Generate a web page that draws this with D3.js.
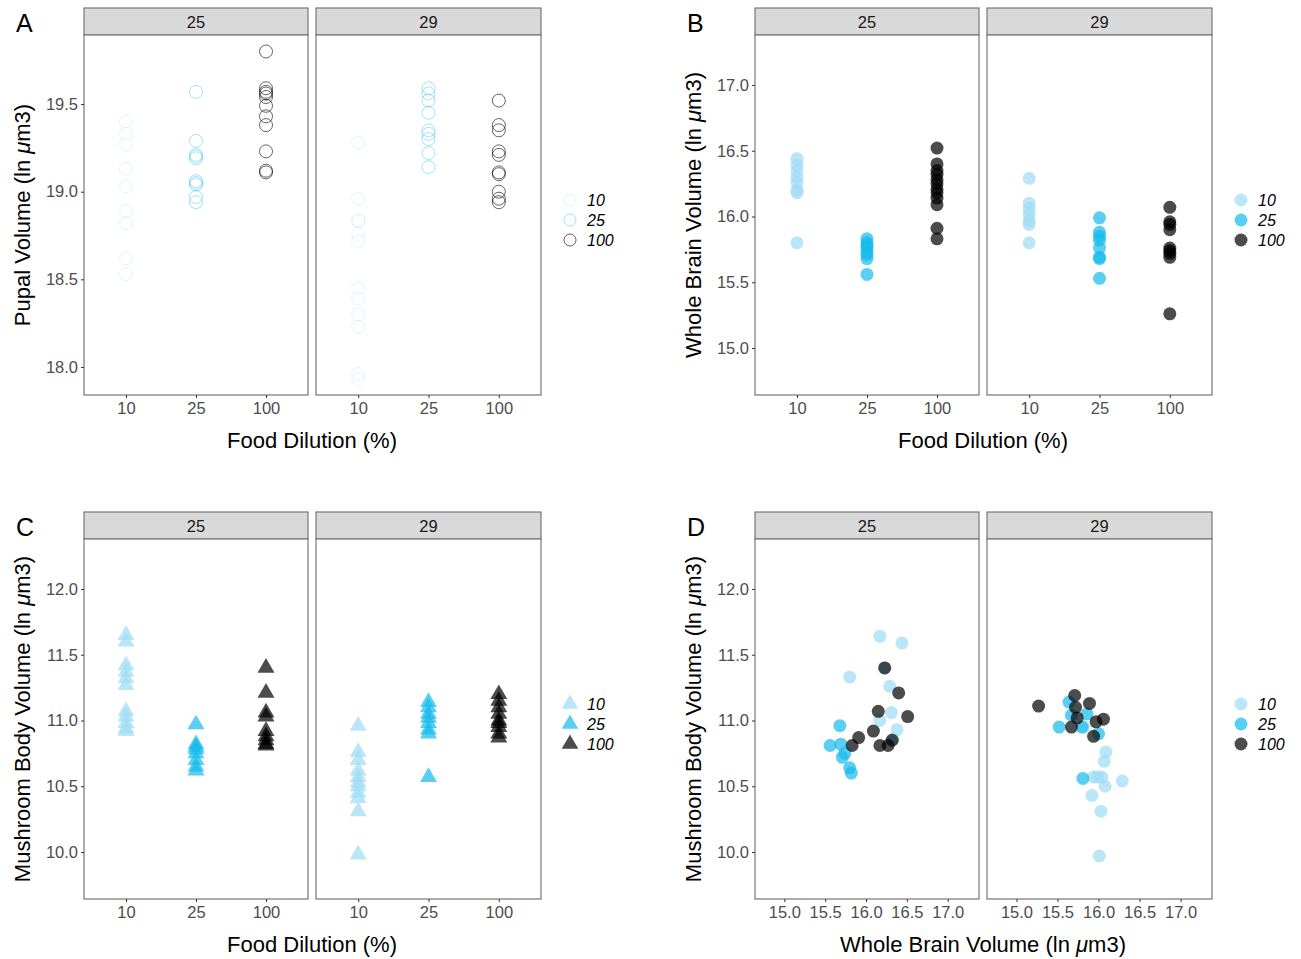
<!DOCTYPE html>
<html>
<head>
<meta charset="utf-8">
<script src="https://d3js.org/d3.v7.min.js"></script>
<style>
  body { margin: 0; background: #fff; }
  svg text { font-family: "Liberation Sans", Arial, sans-serif; }
</style>
</head>
<body>
<div id="container"></div>
<script>
// ---- data ----
var dilutions = ["10", "25", "100"];
var temps = ["25", "29"];

// A: pupal volume, open circles
var pupal_25_10  = [19.40, 19.33, 19.27, 19.13, 19.03, 18.89, 18.82, 18.62, 18.53];
var pupal_25_25  = [19.57, 19.29, 19.21, 19.20, 19.19, 19.06, 19.05, 19.04, 18.97, 18.94];
var pupal_25_100 = [19.80, 19.59, 19.57, 19.56, 19.54, 19.49, 19.43, 19.38, 19.23, 19.12, 19.11];
var pupal_29_10  = [19.28, 18.96, 18.84, 18.83, 18.76, 18.72, 18.45, 18.39, 18.30, 18.23, 17.96, 17.93];
var pupal_29_25  = [19.59, 19.56, 19.52, 19.45, 19.35, 19.33, 19.30, 19.22, 19.14];
var pupal_29_100 = [19.52, 19.38, 19.35, 19.23, 19.21, 19.11, 19.10, 19.00, 18.96, 18.94];

// B: whole brain volume
var brain_25_10  = [16.44, 16.39, 16.35, 16.30, 16.26, 16.20, 16.18, 15.80];
var brain_25_25  = [15.83, 15.80, 15.78, 15.76, 15.73, 15.71, 15.68, 15.56];
var brain_25_100 = [16.52, 16.40, 16.35, 16.32, 16.28, 16.25, 16.21, 16.18, 16.14, 16.09, 15.91, 15.83];
var brain_29_10  = [16.29, 16.10, 16.06, 16.02, 15.97, 15.94, 15.80];
var brain_29_25  = [15.99, 15.88, 15.85, 15.82, 15.76, 15.69, 15.68, 15.53];
var brain_29_100 = [16.07, 15.96, 15.94, 15.90, 15.76, 15.74, 15.72, 15.69, 15.26];

// C: mushroom body volume, triangles
var mb_25_10  = [11.65, 11.60, 11.42, 11.37, 11.32, 11.27, 11.07, 11.03, 10.98, 10.94, 10.92];
var mb_25_25  = [10.97, 10.82, 10.80, 10.78, 10.75, 10.70, 10.65, 10.62];
var mb_25_100 = [11.40, 11.21, 11.06, 11.03, 10.92, 10.88, 10.85, 10.82, 10.81];
var mb_29_10  = [10.96, 10.76, 10.70, 10.62, 10.57, 10.53, 10.50, 10.45, 10.41, 10.31, 9.98];
var mb_29_25  = [11.14, 11.10, 11.05, 11.02, 10.98, 10.93, 10.90, 10.57];
var mb_29_100 = [11.20, 11.15, 11.10, 11.05, 11.00, 10.98, 10.95, 10.90, 10.87];

// D: [whole brain, mushroom body]
var scat_25_10  = [[16.17,11.64],[16.44,11.59],[15.80,11.33],[16.22,11.40],[16.29,11.26],[16.31,11.06],[16.17,11.00],[16.38,10.93],[16.33,10.86]];
var scat_25_25  = [[15.68,10.96],[15.56,10.81],[15.69,10.82],[15.71,10.72],[15.74,10.75],[15.80,10.64],[15.82,10.60]];
var scat_25_100 = [[16.23,11.40],[16.40,11.21],[16.15,11.07],[16.51,11.03],[16.09,10.92],[15.91,10.87],[15.83,10.81],[16.17,10.81],[16.27,10.81],[16.32,10.85]];
var scat_29_10  = [[16.09,10.76],[16.07,10.69],[15.94,10.57],[16.04,10.57],[16.08,10.50],[16.29,10.54],[15.92,10.43],[16.03,10.31],[16.01,9.97],[15.82,10.95],[15.99,10.57]];
var scat_29_25  = [[15.64,11.14],[15.67,11.04],[15.86,11.05],[15.52,10.95],[15.80,10.95],[16.00,10.90],[15.81,10.56]];
var scat_29_100 = [[15.27,11.11],[15.71,11.19],[15.89,11.13],[15.72,11.10],[15.74,11.02],[15.67,10.95],[15.97,10.99],[16.06,11.01],[15.94,10.88]];

var pupalTicks = [18.0, 18.5, 19.0, 19.5];
var brainTicks = [15.0, 15.5, 16.0, 16.5, 17.0];
var mbTicks = [10.0, 10.5, 11.0, 11.5, 12.0];

// ---- look ----
var colors = {"10": "#9edcf4", "25": "#16bbec", "100": "#000000"};
var alphaFill = 0.7;
var alphaRing = {"10": 0.3, "25": 0.4, "100": 0.6};

var svg = d3.select("#container").append("svg")
    .attr("width", 1301).attr("height", 959);

// facet panel boxes relative to each sub figure
var facetX = [[84, 308], [316, 541]];
var panelTop = 35, panelBottom = 395, stripTop = 8;

function drawFrame(g, letter, yScale, yTicks, yTitle, xTitle) {
  g.append("text").attr("x", 16).attr("y", 32)
    .style("font-size", "25px").style("fill", "#000").text(letter);

  temps.forEach(function(t, i) {
    var x0 = facetX[i][0], x1 = facetX[i][1];
    g.append("rect").attr("x", x0).attr("y", stripTop)
      .attr("width", x1 - x0).attr("height", panelTop - stripTop)
      .attr("fill", "#d9d9d9").attr("stroke", "#777").attr("stroke-width", 1.2);
    g.append("text").attr("x", (x0 + x1) / 2).attr("y", (stripTop + panelTop) / 2 + 6)
      .attr("text-anchor", "middle").style("font-size", "16.5px").style("fill", "#1a1a1a").text(t);
    g.append("rect").attr("x", x0).attr("y", panelTop)
      .attr("width", x1 - x0).attr("height", panelBottom - panelTop)
      .attr("fill", "#fff").attr("stroke", "#777").attr("stroke-width", 1.2);
  });

  var yAxis = g.append("g").attr("transform", "translate(" + facetX[0][0] + ",0)")
    .call(d3.axisLeft(yScale).tickValues(yTicks).tickFormat(d3.format(".1f")).tickSize(3).tickPadding(3));
  styleAxis(yAxis);

  var yt = g.append("text")
    .attr("transform", "translate(30," + (panelTop + panelBottom) / 2 + ") rotate(-90)")
    .attr("text-anchor", "middle").style("font-size", "22px").style("fill", "#000");
  var parts = yTitle.split("\u03bc");
  yt.append("tspan").text(parts[0]);
  yt.append("tspan").style("font-style", "italic").text("\u03bc");
  yt.append("tspan").text(parts[1]);

  var xt = g.append("text").attr("x", 312).attr("y", 448)
    .attr("text-anchor", "middle").style("font-size", "22px").style("fill", "#000");
  var xp = xTitle.split("\u03bc");
  xt.append("tspan").text(xp[0]);
  if (xp.length > 1) {
    xt.append("tspan").style("font-style", "italic").text("\u03bc");
    xt.append("tspan").text(xp[1]);
  }
}

function styleAxis(ax) {
  ax.select(".domain").remove();
  ax.selectAll(".tick line").attr("stroke", "#333").attr("stroke-width", 1);
  ax.selectAll(".tick text").style("font-size", "16.5px").style("fill", "#4d4d4d")
    .style("font-family", "'Liberation Sans', Arial, sans-serif");
}

function xBand(i) {
  return d3.scalePoint().domain(dilutions).range(facetX[i]).padding(0.6);
}

function drawBandAxis(g, i) {
  var ax = g.append("g").attr("transform", "translate(0," + panelBottom + ")")
    .call(d3.axisBottom(xBand(i)).tickSize(3).tickPadding(4));
  styleAxis(ax);
}

function drawLegend(g, lx, kind) {
  dilutions.forEach(function(d, k) {
    var cy = 200 + k * 20;
    var c = colors[d];
    if (kind === "ring") {
      g.append("circle").attr("cx", lx).attr("cy", cy).attr("r", 6)
        .attr("fill", "none").attr("stroke", c).attr("stroke-opacity", alphaRing[d]).attr("stroke-width", 1);
    } else if (kind === "tri") {
      g.append("path").attr("transform", "translate(" + lx + "," + cy + ")")
        .attr("d", d3.symbol().type(d3.symbolTriangle).size(120)())
        .attr("fill", c).attr("fill-opacity", alphaFill);
    } else {
      g.append("circle").attr("cx", lx).attr("cy", cy).attr("r", 6.5)
        .attr("fill", c).attr("fill-opacity", alphaFill);
    }
    g.append("text").attr("x", lx + 17).attr("y", cy + 6)
      .style("font-size", "16px").style("font-style", "italic").style("fill", "#000").text(d);
  });
}

function dotGroups(g, i, yScale, sets, kind) {
  var x = xBand(i);
  dilutions.forEach(function(d, k) {
    var pts = sets[k];
    if (kind === "ring") {
      g.append("g").selectAll("circle").data(pts).enter().append("circle")
        .attr("cx", x(d)).attr("cy", function(v) { return yScale(v); }).attr("r", 6.5)
        .attr("fill", "none").attr("stroke", colors[d])
        .attr("stroke-opacity", alphaRing[d]).attr("stroke-width", 1);
    } else if (kind === "tri") {
      g.append("g").selectAll("path").data(pts).enter().append("path")
        .attr("transform", function(v) { return "translate(" + x(d) + "," + yScale(v) + ")"; })
        .attr("d", d3.symbol().type(d3.symbolTriangle).size(125)())
        .attr("fill", colors[d]).attr("fill-opacity", alphaFill);
    } else {
      g.append("g").selectAll("circle").data(pts).enter().append("circle")
        .attr("cx", x(d)).attr("cy", function(v) { return yScale(v); }).attr("r", 6.5)
        .attr("fill", colors[d]).attr("fill-opacity", alphaFill);
    }
  });
}

var yTitleA = "Pupal Volume (ln \u03bcm3)";
var yTitleB = "Whole Brain Volume (ln \u03bcm3)";
var yTitleC = "Mushroom Body Volume (ln \u03bcm3)";

// ---- A ----
var gA = svg.append("g").attr("transform", "translate(0,0)");
var yA = d3.scaleLinear().domain([17.84, 19.894]).range([panelBottom, panelTop]);
drawFrame(gA, "A", yA, pupalTicks, yTitleA, "Food Dilution (%)");
dotGroups(gA, 0, yA, [pupal_25_10, pupal_25_25, pupal_25_100], "ring");
dotGroups(gA, 1, yA, [pupal_29_10, pupal_29_25, pupal_29_100], "ring");
drawBandAxis(gA, 0); drawBandAxis(gA, 1);
drawLegend(gA, 570, "ring");

// ---- B ----
var gB = svg.append("g").attr("transform", "translate(671,0)");
var yB = d3.scaleLinear().domain([14.643, 17.38]).range([panelBottom, panelTop]);
drawFrame(gB, "B", yB, brainTicks, yTitleB, "Food Dilution (%)");
dotGroups(gB, 0, yB, [brain_25_10, brain_25_25, brain_25_100], "dot");
dotGroups(gB, 1, yB, [brain_29_10, brain_29_25, brain_29_100], "dot");
drawBandAxis(gB, 0); drawBandAxis(gB, 1);
drawLegend(gB, 570, "dot");

// ---- C ----
var gC = svg.append("g").attr("transform", "translate(0,504)");
var yC = d3.scaleLinear().domain([9.643, 12.38]).range([panelBottom, panelTop]);
drawFrame(gC, "C", yC, mbTicks, yTitleC, "Food Dilution (%)");
dotGroups(gC, 0, yC, [mb_25_10, mb_25_25, mb_25_100], "tri");
dotGroups(gC, 1, yC, [mb_29_10, mb_29_25, mb_29_100], "tri");
drawBandAxis(gC, 0); drawBandAxis(gC, 1);
drawLegend(gC, 570, "tri");

// ---- D ----
var gD = svg.append("g").attr("transform", "translate(671,504)");
drawFrame(gD, "D", yC, mbTicks, yTitleC, "Whole Brain Volume (ln \u03bcm3)");
var scatSets = [[scat_25_10, scat_25_25, scat_25_100], [scat_29_10, scat_29_25, scat_29_100]];
temps.forEach(function(t, i) {
  var xD = d3.scaleLinear().domain([14.641, 17.383]).range(facetX[i]);
  dilutions.forEach(function(d, k) {
    gD.append("g").selectAll("circle").data(scatSets[i][k]).enter().append("circle")
      .attr("cx", function(p) { return xD(p[0]); })
      .attr("cy", function(p) { return yC(p[1]); })
      .attr("r", 6.5).attr("fill", colors[d]).attr("fill-opacity", alphaFill);
  });
  var ax = gD.append("g").attr("transform", "translate(0," + panelBottom + ")")
    .call(d3.axisBottom(xD).tickValues(brainTicks).tickFormat(d3.format(".1f")).tickSize(3).tickPadding(4));
  styleAxis(ax);
});
drawLegend(gD, 570, "dot");
</script>
</body>
</html>
